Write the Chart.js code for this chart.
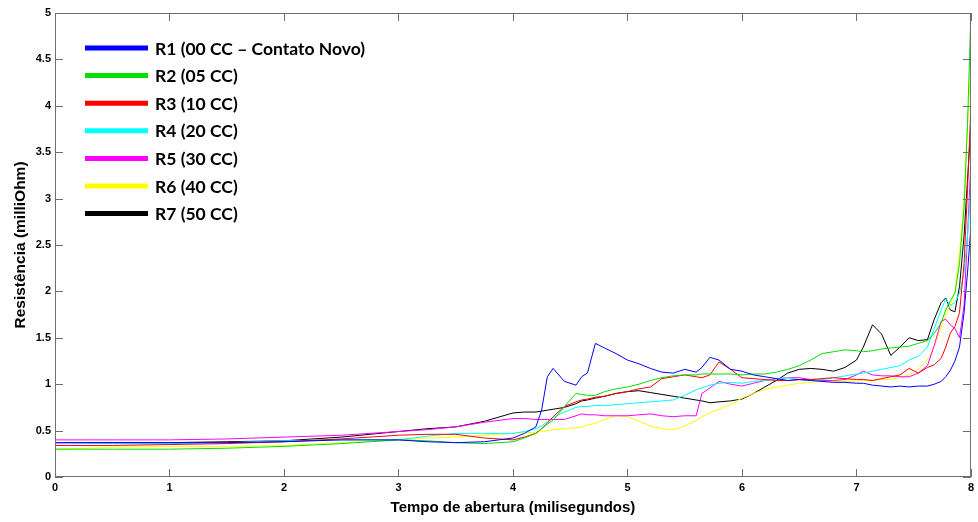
<!DOCTYPE html>
<html>
<head>
<meta charset="utf-8">
<script src="https://cdn.jsdelivr.net/npm/chart.js@4/dist/chart.umd.min.js"></script>
<style>
  html, body { margin: 0; padding: 0; background: #fff; }
  #wrap { width: 978px; height: 522px; }
</style>
</head>
<body>
<div id="wrap"><canvas id="myChart1" width="978" height="522"></canvas></div>
<script>
// tempo de abertura (ms)
var timeMs = [0, 0.5, 1, 1.5, 2, 2.5, 3, 3.25, 3.5, 3.75, 4, 4.1, 4.2, 4.25, 4.3, 4.35, 4.45, 4.55, 4.6, 4.65,
  4.72, 4.8, 4.9, 5, 5.1, 5.2, 5.3, 5.4, 5.5, 5.6, 5.65, 5.72, 5.8, 5.9, 6, 6.1, 6.2, 6.3, 6.4, 6.5,
  6.6, 6.7, 6.8, 6.9, 7, 7.06, 7.14, 7.22, 7.3, 7.38, 7.46, 7.54, 7.62, 7.68, 7.74, 7.78, 7.82, 7.86, 7.9, 7.94,
  7.97, 8.0];

var r1 = [0.37, 0.37, 0.37, 0.37, 0.38, 0.40, 0.40, 0.38, 0.37, 0.38, 0.42, 0.47, 0.54, 0.72, 1.08, 1.17, 1.03, 0.99, 1.08, 1.12,
  1.44, 1.39, 1.33, 1.26, 1.22, 1.17, 1.13, 1.12, 1.16, 1.13, 1.18, 1.29, 1.26, 1.16, 1.14, 1.10, 1.08, 1.06, 1.04, 1.05,
  1.04, 1.03, 1.02, 1.02, 1.01, 1.01, 0.99, 0.98, 0.97, 0.98, 0.97, 0.98, 0.98, 1.00, 1.03, 1.08, 1.15, 1.25, 1.40, 1.77,
  2.2, 2.7];
var r2 = [0.30, 0.30, 0.30, 0.31, 0.33, 0.36, 0.40, 0.39, 0.37, 0.36, 0.38, 0.42, 0.47, 0.52, 0.57, 0.61, 0.76, 0.90, 0.89, 0.88,
  0.88, 0.92, 0.95, 0.97, 1.00, 1.04, 1.07, 1.09, 1.10, 1.10, 1.11, 1.11, 1.11, 1.11, 1.10, 1.11, 1.11, 1.13, 1.16, 1.20,
  1.26, 1.33, 1.35, 1.37, 1.36, 1.35, 1.36, 1.38, 1.39, 1.40, 1.41, 1.44, 1.47, 1.55, 1.66, 1.80, 1.90, 1.98, 2.3, 2.9,
  3.8, 5.0];
var r3 = [0.34, 0.34, 0.35, 0.36, 0.38, 0.41, 0.45, 0.46, 0.46, 0.42, 0.40, 0.43, 0.47, 0.52, 0.58, 0.65, 0.76, 0.81, 0.83, 0.84,
  0.86, 0.87, 0.90, 0.92, 0.95, 0.97, 1.06, 1.08, 1.10, 1.08, 1.07, 1.10, 1.24, 1.16, 1.07, 1.06, 1.05, 1.04, 1.04, 1.05,
  1.05, 1.06, 1.07, 1.06, 1.05, 1.05, 1.04, 1.06, 1.08, 1.10, 1.17, 1.12, 1.18, 1.21, 1.28, 1.40, 1.55, 1.62, 1.77, 2.3,
  3.1, 4.0];
var r4 = [0.37, 0.36, 0.36, 0.37, 0.39, 0.40, 0.40, 0.44, 0.47, 0.47, 0.47, 0.49, 0.52, 0.55, 0.60, 0.64, 0.70, 0.75, 0.76, 0.76,
  0.77, 0.77, 0.78, 0.79, 0.80, 0.81, 0.82, 0.83, 0.88, 0.94, 0.96, 0.99, 1.01, 1.02, 1.01, 1.03, 1.04, 1.06, 1.07, 1.05,
  1.04, 1.05, 1.07, 1.09, 1.11, 1.12, 1.14, 1.16, 1.18, 1.20, 1.26, 1.30, 1.40, 1.60, 1.80, 1.92, 1.85, 1.88, 1.98, 2.2,
  2.6, 3.1];
var r5 = [0.40, 0.40, 0.40, 0.41, 0.43, 0.45, 0.49, 0.51, 0.54, 0.59, 0.63, 0.63, 0.62, 0.62, 0.62, 0.62, 0.62, 0.66, 0.68, 0.67,
  0.67, 0.66, 0.66, 0.66, 0.67, 0.68, 0.66, 0.65, 0.66, 0.66, 0.90, 0.96, 1.03, 1.00, 0.98, 1.01, 1.04, 1.06, 1.07, 1.07,
  1.05, 1.04, 1.04, 1.05, 1.10, 1.14, 1.10, 1.09, 1.09, 1.08, 1.08, 1.12, 1.20, 1.42, 1.68, 1.70, 1.64, 1.60, 1.50, 1.85,
  2.6, 3.4];
var r6 = [0.30, 0.32, 0.33, 0.33, 0.34, 0.37, 0.40, 0.42, 0.43, 0.45, 0.47, 0.48, 0.48, 0.49, 0.50, 0.51, 0.52, 0.53, 0.54, 0.56,
  0.58, 0.62, 0.66, 0.65, 0.60, 0.55, 0.52, 0.51, 0.55, 0.61, 0.65, 0.69, 0.73, 0.78, 0.85, 0.90, 0.94, 0.97, 0.99, 1.01,
  1.02, 1.03, 1.03, 1.03, 1.03, 1.04, 1.04, 1.05, 1.05, 1.07, 1.10, 1.16, 1.26, 1.40, 1.62, 1.75, 1.85, 2.0, 2.4, 3.0,
  3.8, 4.5];
var r7 = [0.37, 0.37, 0.37, 0.38, 0.39, 0.43, 0.49, 0.52, 0.54, 0.60, 0.69, 0.70, 0.70, 0.71, 0.72, 0.73, 0.75, 0.79, 0.82, 0.83,
  0.85, 0.87, 0.90, 0.92, 0.93, 0.91, 0.89, 0.87, 0.85, 0.83, 0.82, 0.80, 0.81, 0.82, 0.84, 0.90, 0.97, 1.04, 1.12, 1.16,
  1.17, 1.16, 1.14, 1.18, 1.26, 1.40, 1.64, 1.54, 1.31, 1.40, 1.50, 1.47, 1.48, 1.70, 1.88, 1.93, 1.80, 1.78, 2.05, 2.6,
  3.2, 3.8];

var seriesLabels = ["R1 (00 CC \u2013 Contato Novo)", "R2 (05 CC)", "R3 (10 CC)", "R4 (20 CC)", "R5 (30 CC)", "R6 (40 CC)", "R7 (50 CC)"];
var seriesValues = [r1, r2, r3, r4, r5, r6, r7];
var seriesColors = ["#0000ff", "#00e000", "#ff0000", "#00ffff", "#ff00ff", "#ffff00", "#000000"];
var xTicks = [0, 1, 2, 3, 4, 5, 6, 7, 8];
var yTicks = [0, 0.5, 1, 1.5, 2, 2.5, 3, 3.5, 4, 4.5, 5];

// box + inward ticks like the matlab figure
var boxTicks = {
    id: 'boxTicks',
    afterDatasetsDraw(chart) {
        var ctx = chart.ctx, a = chart.chartArea;
        var xs = chart.scales.x, ys = chart.scales.y;
        ctx.save();
        ctx.strokeStyle = '#6e6e6e';
        ctx.lineWidth = 1;
        ctx.strokeRect(a.left + 0.5, a.top + 0.5, a.right - a.left - 1, a.bottom - a.top - 1);
        ctx.beginPath();
        xTicks.forEach(function (v) {
            var px = Math.round(xs.getPixelForValue(v)) + 0.5;
            ctx.moveTo(px, a.bottom); ctx.lineTo(px, a.bottom - 8);
            ctx.moveTo(px, a.top); ctx.lineTo(px, a.top + 8);
        });
        yTicks.forEach(function (v) {
            var py = Math.round(ys.getPixelForValue(v)) + 0.5;
            ctx.moveTo(a.left, py); ctx.lineTo(a.left + 8, py);
            ctx.moveTo(a.right, py); ctx.lineTo(a.right - 8, py);
        });
        ctx.stroke();
        ctx.restore();
    }
};

// legend drawn inside the plot, top-left
var innerLegend = {
    id: 'innerLegend',
    afterDraw(chart) {
        var ctx = chart.ctx;
        ctx.save();
        ctx.font = 'bold 17.5px Lato, "Open Sans", sans-serif';
        ctx.textBaseline = 'middle';
        chart.data.datasets.forEach(function (ds, i) {
            var y = 48 + i * 27.6;
            ctx.strokeStyle = ds.borderColor;
            ctx.lineWidth = 5;
            ctx.beginPath();
            ctx.moveTo(85, y); ctx.lineTo(148, y);
            ctx.stroke();
            ctx.fillStyle = '#000';
            ctx.fillText(ds.label, 155, y + 1);
        });
        ctx.restore();
    }
};

var ctx1 = document.getElementById('myChart1').getContext('2d');
var myChart1 = new Chart(ctx1, {
    type: 'line',
    data: {
        labels: timeMs,
        datasets: seriesValues.map(function (vals, i) {
            return {
                label: seriesLabels[i],
                data: vals.map(function (v, k) { return { x: timeMs[k], y: v }; }),
                borderColor: seriesColors[i],
                borderWidth: 1,
                pointRadius: 0,
                tension: 0,
                fill: false
            };
        })
    },
    options: {
        responsive: false,
        animation: false,
        devicePixelRatio: 1,
        layout: { padding: { left: 0, top: 13, right: 3, bottom: 0 } },
        plugins: { legend: { display: false }, tooltip: { enabled: false } },
        scales: {
            x: {
                type: 'linear', min: 0, max: 8,
                afterFit: function (s) { s.height = 45; },
                afterBuildTicks: function (s) { s.ticks = xTicks.map(function (v) { return { value: v }; }); },
                grid: { display: false, drawTicks: false },
                border: { display: false },
                ticks: { padding: 4, color: '#000', font: { family: 'Liberation Sans, Arial', weight: 'bold', size: 11 }, maxRotation: 0,
                    callback: function (v) { return String(v); } },
                title: { display: true, text: 'Tempo de abertura (milisegundos)', color: '#000',
                    font: { family: 'Liberation Sans, Arial', weight: 'bold', size: 15 }, padding: { top: 0, bottom: 5 } }
            },
            y: {
                type: 'linear', min: 0, max: 5,
                afterFit: function (s) { s.width = 55; },
                afterBuildTicks: function (s) { s.ticks = yTicks.map(function (v) { return { value: v }; }); },
                grid: { display: false, drawTicks: false },
                border: { display: false },
                ticks: { padding: 4, color: '#000', font: { family: 'Liberation Sans, Arial', weight: 'bold', size: 11 },
                    callback: function (v) { return String(v); } },
                title: { display: true, text: 'Resistência (milliOhm)', color: '#000',
                    font: { family: 'Liberation Sans, Arial', weight: 'bold', size: 15.5 }, padding: { top: 11, bottom: 0 } }
            }
        }
    },
    plugins: [boxTicks, innerLegend]
});
</script>
</body>
</html>
